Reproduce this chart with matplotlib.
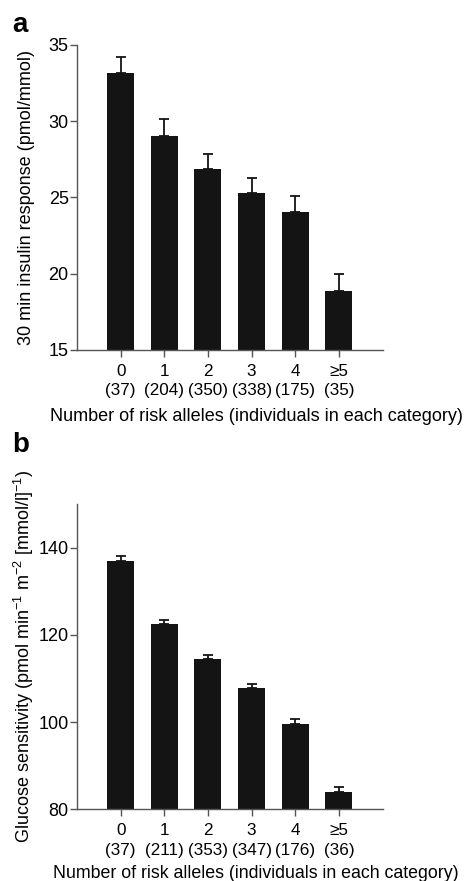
import matplotlib
matplotlib.use("Agg")
import matplotlib.pyplot as plt
import numpy as np

plt.rcParams['font.family'] = ['Liberation Sans', 'DejaVu Sans']
plt.rcParams['mathtext.fontset'] = 'custom'
plt.rcParams['mathtext.rm'] = 'Liberation Sans'
plt.rcParams['mathtext.it'] = 'Liberation Sans:italic'

categories = ["0", "1", "2", "3", "4", "\u22655"]
n_a = [37, 204, 350, 338, 175, 35]
insulin = [33.15, 29.05, 26.85, 25.3, 24.07, 18.9]
insulin_err = [1.08, 1.08, 1.02, 1.0, 1.05, 1.08]

n_b = [37, 211, 353, 347, 176, 36]
sensitivity = [136.95, 122.5, 114.5, 107.9, 99.6, 84.0]
sensitivity_err = [1.1, 1.0, 0.9, 0.9, 1.0, 1.1]

xlabel = "Number of risk alleles (individuals in each category)"

fig = plt.figure(figsize=(4.65, 8.81), dpi=100)
axa = fig.add_axes([77/465, 1-350/881, 306/465, 305/881])
axb = fig.add_axes([77/465, 1-809.3/881, 306/465, 305.3/881])

bar_color = "#141414"
axis_color = "#555555"
FS = 13

def draw(ax, vals, errs, ns, ylim, yticks, ylabel, xl_fs):
    x = np.arange(len(vals))
    ax.bar(x, vals, width=0.62, color=bar_color, zorder=2,
           yerr=[np.zeros(len(errs)), errs], capsize=3.6,
           error_kw=dict(ecolor=bar_color, elinewidth=1.3, capthick=1.3))
    ax.set_xlim(-1, 6.01)
    ax.set_ylim(*ylim)
    ax.set_yticks(yticks)
    ax.set_xticks(x)
    ax.set_xticklabels([f"{c}\n({n})" for c, n in zip(categories, ns)],
                       fontsize=12.3, linespacing=1.38)
    ax.tick_params(axis='y', labelsize=FS, length=5, width=1, color=axis_color, pad=1)
    ax.tick_params(axis='x', length=5, width=1, color=axis_color, pad=5)
    for s in ['top', 'right']:
        ax.spines[s].set_visible(False)
    for s in ['left', 'bottom']:
        ax.spines[s].set_color(axis_color)
        ax.spines[s].set_linewidth(1)
    ax.set_ylabel(ylabel, fontsize=FS)
    ax.set_xlabel(xlabel, fontsize=xl_fs)

draw(axa, insulin, insulin_err, n_a, (15, 35), [15, 20, 25, 30, 35],
     "30 min insulin response (pmol/mmol)", FS)
draw(axb, sensitivity, sensitivity_err, n_b, (80, 150), [80, 100, 120, 140],
     r"Glucose sensitivity (pmol min$^{-1}$ m$^{-2}$ [mmol/l]$^{-1}$)", 12.8)

axa.yaxis.set_label_coords(-0.138, 0.5)
axb.yaxis.set_label_coords(-0.134, 0.5)
axa.xaxis.set_label_coords(0.585, -(408 - 350) / 305)
axb.xaxis.set_label_coords(0.585, -(865.5 - 809.3) / 305.3)

fig.text(12/465, 1-25/881, "a", fontsize=20, fontweight='bold', va='center', ha='left')
fig.text(12/465, 1-445/881, "b", fontsize=20, fontweight='bold', va='center', ha='left')

fig.savefig("out.png", dpi=100)
